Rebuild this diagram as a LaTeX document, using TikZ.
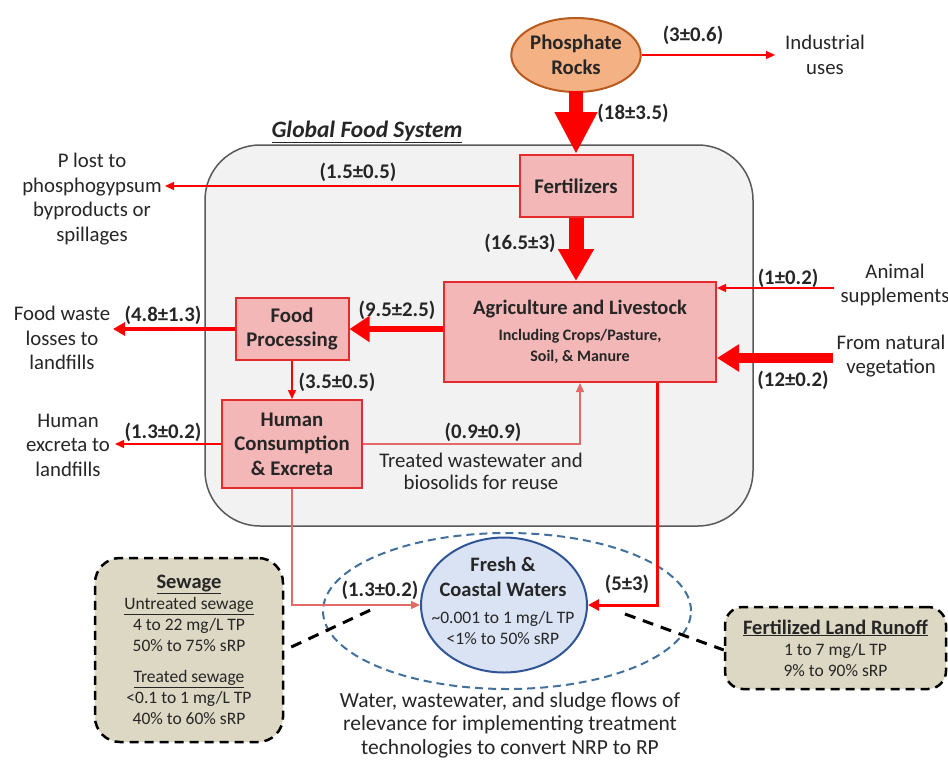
\documentclass[tikz,border=0pt]{standalone}
\usepackage{fontspec}
\setmainfont{Carlito}
\usetikzlibrary{arrows.meta,shapes.geometric}
\definecolor{txt}{HTML}{262626}
\definecolor{redA}{HTML}{FF0000}
\definecolor{redB}{HTML}{E52B2B}
\definecolor{redL}{HTML}{E46A6A}
\definecolor{pinkF}{HTML}{F4B7B7}
\definecolor{grayF}{HTML}{F2F2F2}
\definecolor{grayD}{HTML}{595959}
\definecolor{orgF}{HTML}{F4B183}
\definecolor{orgD}{HTML}{B85A1E}
\definecolor{blueF}{HTML}{DAE3F3}
\definecolor{blueD}{HTML}{2F5597}
\definecolor{blueM}{HTML}{41719C}
\definecolor{tanF}{HTML}{DCD8C3}
\newcommand{\mymainf}{\fontsize{20.8}{24.5}\selectfont}
\newcommand{\mysmallf}{\fontsize{17.5}{21}\selectfont}
\newcommand{\mysubf}{\fontsize{16}{21}\selectfont}
\newcommand{\mytitf}{\fontsize{20.5}{21}\selectfont\bfseries}
\begin{document}
\begin{tikzpicture}[x=1pt,y=-1pt,
  every node/.style={text=txt, inner sep=0pt, align=center, font=\mymainf},
  lbl/.style={font=\mymainf\bfseries},
  redbox/.style={draw=redB, fill=pinkF, line width=2pt},
  thinflow/.style={draw=redA, line width=1.4pt, -{Triangle[length=9pt,width=8pt]}},
  softflow/.style={draw=redL, line width=1.2pt, -{Triangle[length=9pt,width=8pt]}},
  dashline/.style={draw=black, line width=3pt, dash pattern=on 11pt off 8pt},
  infobox/.style={draw=black, fill=tanF, line width=2.5pt, dash pattern=on 9pt off 6pt, rounded corners=25pt}
]
\clip (0,0) rectangle (948,761);
\fill[white] (0,0) rectangle (948,761);

% containers
\node[draw=grayD, fill=grayF, line width=1.5pt, rounded corners=55pt, minimum width=548pt, minimum height=381pt] (gfs) at (479,335.5) {};
\node[font=\fontsize{23.5}{26}\selectfont\bfseries\itshape] (gfst) at (367,132) {\underline{Global Food System}};

\node[ellipse, draw=orgD, fill=orgF, line width=2pt, minimum width=126pt, minimum height=74pt, font=\mymainf\bfseries] (rock) at (576,55) {Phosphate\\Rocks};

\node[redbox, lbl, minimum width=113pt, minimum height=62pt] (fert) at (576,186) {Fertilizers};
\node[redbox, font=\mysubf\bfseries, minimum width=272pt, minimum height=100pt] (agri) at (580,332) {{\mytitf Agriculture and Livestock}\\[5pt]Including Crops/Pasture,\\Soil, \& Manure};
\node[redbox, lbl, minimum width=113pt, minimum height=62pt] (fp) at (292,329) {Food\\Processing};
\node[redbox, lbl, minimum width=140pt, minimum height=88pt] (hc) at (292,444) {Human\\Consumption\\\& Excreta};

\node[ellipse, draw=blueM, line width=2pt, dash pattern=on 8pt off 5pt, minimum width=368pt, minimum height=156pt] (zone) at (507,611) {};
\node[ellipse, draw=blueD, fill=blueF, line width=2pt, minimum width=166pt, minimum height=135pt] (fresh) at (504,605) {};
\node[font=\mysmallf] (freshT) at (503,601) {{\mytitf Fresh \&}\\[4pt]{\mytitf Coastal Waters}\\[6pt]\textasciitilde0.001 to 1 mg/L TP\\<1\% to 50\% sRP};

\node[infobox, font=\mysmallf, minimum width=188pt, minimum height=184pt] (sew) at (189,650) {{\mytitf\underline{Sewage}}\\\underline{Untreated sewage}\\4 to 22 mg/L TP\\50\% to 75\% sRP\\[10pt]\underline{Treated sewage}\\<0.1 to 1 mg/L TP\\40\% to 60\% sRP};
\node[infobox, rounded corners=18pt, font=\mysmallf, minimum width=221pt, minimum height=82pt] (run) at (835.5,648) {{\mytitf\underline{Fertilized Land Runoff}}\\1 to 7 mg/L TP\\9\% to 90\% sRP};

% outer texts
\node (ind) at (825,55) {Industrial\\uses};
\node (plost) at (92,199) {P lost to\\phosphogypsum\\byproducts or\\spillages};
\node (anim) at (895,285) {Animal\\supplements};
\node (nat) at (891,356) {From natural\\vegetation};
\node (fw) at (62,338) {Food waste\\losses to\\landfills};
\node (hex) at (68,445) {Human\\excreta to\\landfills};
\node (treat) at (481,471) {Treated wastewater and\\[-2.5pt]biosolids for reuse};
\node[font=\fontsize{21.5}{23.5}\selectfont] (cap) at (510,725) {Water, wastewater, and sludge flows of\\relevance for implementing treatment\\technologies to convert NRP to RP};

% free ends
\coordinate (indE) at (775,55);
\coordinate (plostE) at (165,186);
\coordinate (animS) at (834,288);
\coordinate (natS) at (833,358);
\coordinate (fwE) at (113,329);
\coordinate (hexE) at (115,444);
\coordinate (sewT) at (377,607);
\coordinate (runT) at (625,614);

% connectors
\draw[thinflow] (rock.east) -- (indE);
\draw[draw=redA, line width=14pt, -{Triangle[length=42pt,width=40pt]}] ([yshift=2pt]rock.south) -- (fert.north);
\draw[draw=redA, line width=15pt, -{Triangle[length=32pt,width=34pt]}] (fert.south) -- (fert.south |- agri.north);
\draw[thinflow] (fert.west) -- (plostE);
\draw[thinflow] (animS) -- (animS -| agri.east);
\draw[draw=redA, line width=10pt, -{Triangle[length=22pt,width=26pt]}] (natS) -- (natS -| agri.east);
\draw[draw=redA, line width=6pt, -{Triangle[length=20pt,width=25pt]}] (fp.east -| agri.west) -- (fp.east);
\draw[draw=redA, line width=3.5pt, -{Triangle[length=12pt,width=13pt]}] (fp.west) -- (fwE);
\draw[thinflow] (fp.south) -- (hc.north);
\draw[thinflow] (hc.west) -- (hexE);
\draw[softflow] (hc.east) -| (agri.south);
\draw[softflow] (hc.south) |- (fresh.west);
\draw[draw=redA, line width=3pt, -{Triangle[length=11pt,width=11pt]}] ([xshift=77pt]agri.south) |- (fresh.east);
\draw[dashline] ([xshift=7pt,yshift=3pt]sew.east) -- (sewT);
\draw[dashline] (runT) -- ([yshift=-2pt]run.west);

% flow labels
\node[lbl] (l1) at (693,35) {(3±0.6)};
\node[lbl] (l2) at (633,113) {(18±3.5)};
\node[lbl] (l3) at (358,172) {(1.5±0.5)};
\node[lbl] (l4) at (520,243) {(16.5±3)};
\node[lbl] (l5) at (788,278) {(1±0.2)};
\node[lbl] (l6) at (793,380) {(12±0.2)};
\node[lbl] (l7) at (397,310) {(9.5±2.5)};
\node[lbl] (l8) at (163,315) {(4.8±1.3)};
\node[lbl] (l9) at (337,382) {(3.5±0.5)};
\node[lbl] (l10) at (163,432) {(1.3±0.2)};
\node[lbl] (l11) at (483,432) {(0.9±0.9)};
\node[lbl] (l12) at (380,590) {(1.3±0.2)};
\node[lbl] (l13) at (627,584) {(5±3)};
\end{tikzpicture}
\end{document}
